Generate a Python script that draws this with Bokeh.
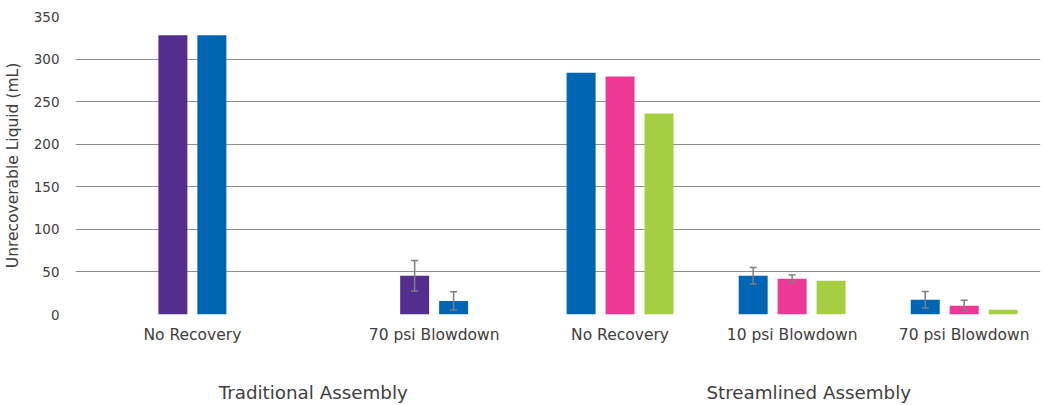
from bokeh.plotting import figure
from bokeh.models import Range1d, FixedTicker, LinearAxis, Whisker, ColumnDataSource, TeeHead
from bokeh.embed import file_html
from bokeh.resources import INLINE

# ---------------- data ----------------
groups = ["Traditional Assembly", "Streamlined Assembly"]

trad_categories = ["No Recovery", "70 psi Blowdown"]
trad_purple = [328, 45.5]
trad_blue = [328, 16]
trad_purple_err = [0, 18]
trad_blue_err = [0, 10.8]

str_categories = ["No Recovery", "10 psi Blowdown", "70 psi Blowdown"]
str_blue = [284, 45.5, 17.3]
str_pink = [279.5, 42, 10.2]
str_green = [236, 39.5, 5.5]
str_blue_err = [0, 9.8, 9.7]
str_pink_err = [0, 4.4, 6.5]
str_green_err = [0, 0, 0]

y_ticks = [0, 50, 100, 150, 200, 250, 300, 350]
y_label = "Unrecoverable Liquid (mL)"

# ---------------- colours / layout ----------------
PURPLE = "#532E8F"
BLUE = "#0065B3"
PINK = "#EE3895"
GREEN = "#A6CE42"
TEXT = "#404040"
GRID = "#8f8f8f"
FONT = "DejaVu Sans"

BAR_W = 29      # bar width (x units == px)
PITCH = 39      # distance between neighbouring bars
TRAD_LEFT, TRAD_CAT_W = -4, 242
STR_LEFT, STR_CAT_W = 459, 172.25
GROUP_LABEL_X = [238, 734]

trad_series = [(trad_purple, trad_purple_err, PURPLE), (trad_blue, trad_blue_err, BLUE)]
str_series = [(str_blue, str_blue_err, BLUE), (str_pink, str_pink_err, PINK),
              (str_green, str_green_err, GREEN)]

bars = dict(x=[], top=[], color=[])
errs = dict(x=[], upper=[], lower=[])
tick_pos, tick_names = [], []


def add_group(categories, series, left, cat_w):
    n = len(series)
    for i, cat in enumerate(categories):
        c = left + (i + 0.5) * cat_w
        tick_pos.append(round(c, 2))
        tick_names.append(cat)
        for j, (vals, err, col) in enumerate(series):
            x = c + (j - (n - 1) / 2) * PITCH
            bars["x"].append(x)
            bars["top"].append(vals[i])
            bars["color"].append(col)
            if err[i] > 0:
                errs["x"].append(x)
                errs["upper"].append(vals[i] + err[i])
                errs["lower"].append(max(vals[i] - err[i], 0))


add_group(trad_categories, trad_series, TRAD_LEFT, TRAD_CAT_W)
add_group(str_categories, str_series, STR_LEFT, STR_CAT_W)

p = figure(width=1042, height=405, output_backend="svg", toolbar_location=None,
           x_range=Range1d(0, 966), y_range=Range1d(0, 350),
           min_border_left=74, min_border_right=2, min_border_top=16, min_border_bottom=91)
p.outline_line_color = None
p.background_fill_color = "white"
p.border_fill_color = "white"

p.vbar(x="x", top="top", width=BAR_W, bottom=0, color="color", line_color=None,
       source=ColumnDataSource(bars))

wh = Whisker(base="x", upper="upper", lower="lower", source=ColumnDataSource(errs),
             line_color="#7f7f7f", line_width=1.5, level="overlay",
             upper_head=TeeHead(size=7, line_color="#7f7f7f", line_width=1.5),
             lower_head=TeeHead(size=7, line_color="#7f7f7f", line_width=1.5))
p.add_layout(wh)

# grid
p.xgrid.visible = False
p.ygrid.ticker = FixedTicker(ticks=y_ticks)
p.ygrid.grid_line_color = GRID
p.ygrid.grid_line_width = 1.2

# y axis
ya = p.yaxis[0]
ya.ticker = FixedTicker(ticks=y_ticks)
ya.axis_line_color = None
ya.major_tick_line_color = None
ya.minor_tick_line_color = None
ya.major_tick_out = 0
ya.major_tick_in = 0
ya.major_label_standoff = 16
ya.major_label_text_font = FONT
ya.major_label_text_font_size = "13.5px"
ya.major_label_text_color = TEXT
ya.axis_label = y_label
ya.axis_label_text_font = FONT
ya.axis_label_text_font_size = "15.5px"
ya.axis_label_text_font_style = "normal"
ya.axis_label_text_color = TEXT
ya.axis_label_standoff = 9

# category axis
xa = p.xaxis[0]
xa.ticker = FixedTicker(ticks=tick_pos)
xa.major_label_overrides = {pos: name for pos, name in zip(tick_pos, tick_names)}
xa.axis_line_color = None
xa.major_tick_line_color = None
xa.minor_tick_line_color = None
xa.major_tick_out = 0
xa.major_tick_in = 0
xa.major_label_standoff = 11
xa.major_label_text_font = FONT
xa.major_label_text_font_size = "15.5px"
xa.major_label_text_color = TEXT

# group axis
ga = LinearAxis(ticker=FixedTicker(ticks=GROUP_LABEL_X),
                major_label_overrides={pos: name for pos, name in zip(GROUP_LABEL_X, groups)},
                axis_line_color=None, major_tick_line_color=None, minor_tick_line_color=None,
                major_tick_out=0, major_tick_in=0, major_label_standoff=35,
                major_label_text_font=FONT, major_label_text_font_size="18.3px",
                major_label_text_color=TEXT)
p.add_layout(ga, "below")

open("out.html", "w").write(file_html(p, INLINE))
